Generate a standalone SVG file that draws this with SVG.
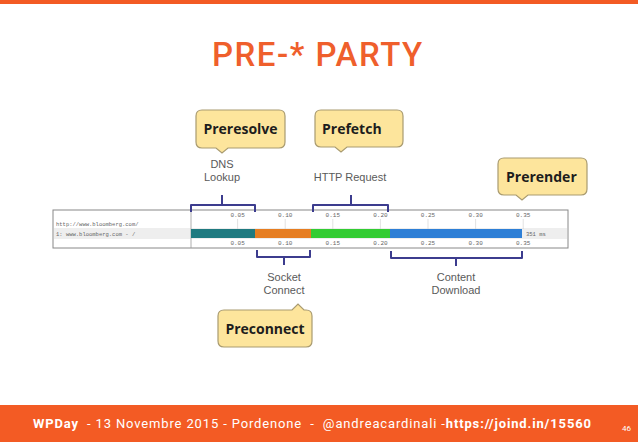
<svg xmlns="http://www.w3.org/2000/svg" width="638" height="442" viewBox="0 0 638 442">
<defs>
<style>
.callout{fill:#fde59c;stroke:#a99b70;stroke-width:1.2}
.ctext{font-family:"Open Sans","Liberation Sans",sans-serif;font-weight:700;font-size:14px;fill:#1d1d1d}
.lbl{font-family:"Liberation Sans",Arial,sans-serif;font-size:11px;fill:#5a5a5a;text-anchor:middle}
.brk{fill:none;stroke:#3c3c8e;stroke-width:2;stroke-linejoin:round}
.tick{font-family:"Liberation Mono",monospace;font-size:6px;fill:#666;text-anchor:middle}
.url{font-family:"Liberation Mono",monospace;font-size:5.5px;fill:#666}
.grid{stroke:#cccccc;stroke-width:0.6}
</style>
</defs>
<rect x="0" y="0" width="638" height="442" fill="#ffffff"/>
<rect x="0" y="0" width="638" height="4" fill="#f35b24"/>
<text x="212" y="66" font-family="Roboto,'Liberation Sans',sans-serif" font-weight="500" font-size="33" letter-spacing="1.5" fill="#ef5f2c">PRE-* PARTY</text>

<g id="timeline">
<rect x="53" y="210" width="515" height="38" fill="#ffffff" stroke="#888" stroke-width="1"/>
<rect x="54" y="228" width="513" height="11" fill="#eeeeee"/>
<line x1="191" y1="210" x2="191" y2="248" stroke="#999" stroke-width="0.8"/>
<text class="url" x="56" y="226">http://www.bloomberg.com/</text>
<text class="url" x="56" y="236">1: www.bloomberg.com - /</text>
<g>
<line class="grid" x1="237.6" y1="219" x2="237.6" y2="229"/>
<line class="grid" x1="285.2" y1="219" x2="285.2" y2="229"/>
<line class="grid" x1="332.8" y1="219" x2="332.8" y2="229"/>
<line class="grid" x1="380.4" y1="219" x2="380.4" y2="229"/>
<line class="grid" x1="428" y1="219" x2="428" y2="229"/>
<line class="grid" x1="475.6" y1="219" x2="475.6" y2="229"/>
<line class="grid" x1="523.2" y1="219" x2="523.2" y2="229"/>
</g>
<rect x="191" y="229" width="64" height="9" fill="#1f7a80"/>
<rect x="255" y="229" width="56" height="9" fill="#e67e22"/>
<rect x="311" y="229" width="79" height="9" fill="#33cc33"/>
<rect x="390" y="229" width="132" height="9" fill="#2e7fd6"/>
<text class="url" x="526" y="236">351 ms</text>
<g>
<text class="tick" x="237.6" y="217">0.05</text>
<text class="tick" x="285.2" y="217">0.10</text>
<text class="tick" x="332.8" y="217">0.15</text>
<text class="tick" x="380.4" y="217">0.20</text>
<text class="tick" x="428" y="217">0.25</text>
<text class="tick" x="475.6" y="217">0.30</text>
<text class="tick" x="523.2" y="217">0.35</text>
<text class="tick" x="237.6" y="245">0.05</text>
<text class="tick" x="285.2" y="245">0.10</text>
<text class="tick" x="332.8" y="245">0.15</text>
<text class="tick" x="380.4" y="245">0.20</text>
<text class="tick" x="428" y="245">0.25</text>
<text class="tick" x="475.6" y="245">0.30</text>
<text class="tick" x="523.2" y="245">0.35</text>
</g>
</g>

<g id="connectors">
<path class="brk" d="M191,212 V205 H255 V212 M222,205 V195"/>
<path class="brk" d="M313,212 V205 H388 V212 M351,205 V195"/>
<path class="brk" d="M257,250 V257 H310 V250 M284,257 V265"/>
<path class="brk" d="M391,251 V258 H522 V251 M456,258 V266"/>
</g>

<g id="dns-label">
<text class="lbl" x="222" y="168">DNS</text>
<text class="lbl" x="222" y="181">Lookup</text>
</g>
<g id="http-label">
<text class="lbl" x="350" y="181">HTTP Request</text>
</g>
<g id="socket-label">
<text class="lbl" x="284" y="281">Socket</text>
<text class="lbl" x="284" y="294">Connect</text>
</g>
<g id="content-label">
<text class="lbl" x="456" y="281">Content</text>
<text class="lbl" x="456" y="294">Download</text>
</g>

<g id="preresolve">
<path class="callout" d="M202,110 H279 Q285,110 285,116 V142 Q285,148 279,148 H228 L222,153 L216,148 H202 Q196,148 196,142 V116 Q196,110 202,110 Z"/>
<text class="ctext" x="240.5" y="134" text-anchor="middle">Preresolve</text>
</g>
<g id="prefetch">
<path class="callout" d="M321,110 H397 Q403,110 403,116 V141 Q403,147 397,147 H347 L341,152 L335,147 H321 Q315,147 315,141 V116 Q315,110 321,110 Z"/>
<text class="ctext" x="322" y="134">Prefetch</text>
</g>
<g id="prerender">
<path class="callout" d="M504,158 H581 Q587,158 587,164 V189 Q587,195 581,195 H528 L522,200 L516,195 H504 Q498,195 498,189 V164 Q498,158 504,158 Z"/>
<text class="ctext" x="506" y="182">Prerender</text>
</g>
<g id="preconnect">
<path class="callout" d="M224,310 H292 L298,304 L304,310 H306 Q312,310 312,316 V341 Q312,347 306,347 H224 Q218,347 218,341 V316 Q218,310 224,310 Z"/>
<text class="ctext" x="265" y="334" text-anchor="middle">Preconnect</text>
</g>

<rect x="0" y="405" width="638" height="37" fill="#f35b24"/>
<text x="33" y="428" xml:space="preserve" textLength="558" lengthAdjust="spacing" font-family="Roboto,'Liberation Sans',sans-serif" font-size="13" fill="#ffffff"><tspan font-weight="700">WPDay</tspan>  - 13 Novembre 2015 - Pordenone  -  @andreacardinali -<tspan font-weight="700">https://joind.in/15560</tspan></text>
<text x="622" y="431" font-family="Roboto,'Liberation Sans',sans-serif" font-size="8" fill="#ffffff">46</text>
</svg>
